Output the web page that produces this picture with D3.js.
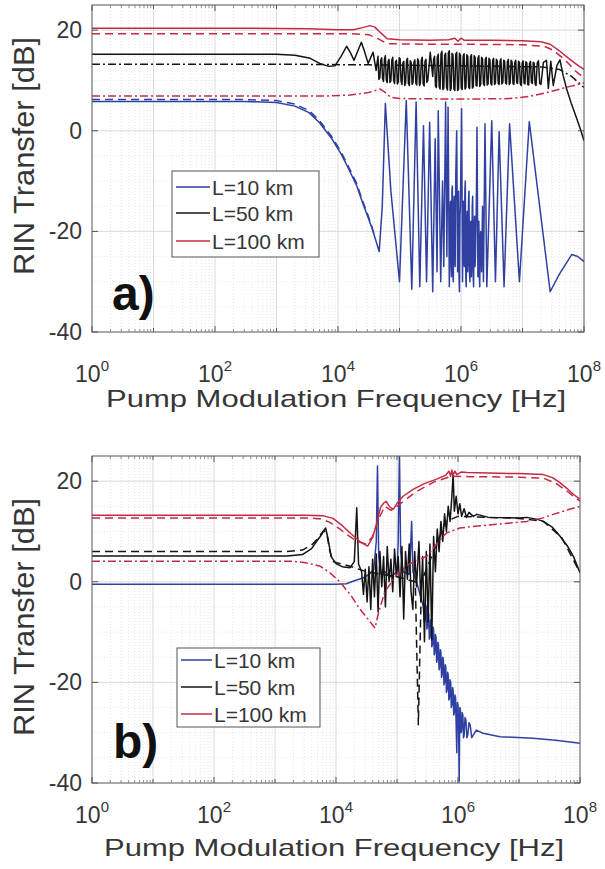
<!DOCTYPE html>
<html><head><meta charset="utf-8">
<script src="https://cdn.jsdelivr.net/npm/d3@7"></script>
<style>
body{margin:0;background:#fff}
svg{display:block}
text{font-family:"Liberation Sans",Arial,Helvetica,sans-serif;fill:#363636}
</style>
</head><body>
<svg id="c" width="605" height="869"></svg>
<script>
// ===== DATA (frequency as log10 exponent, value in dB) =====
const xTickExponents = [0, 2, 4, 6, 8];
const yTickValues = [-40, -20, 0, 20];
const legendLabels = ["L=10 km", "L=50 km", "L=100 km"];
const xLabel = "Pump Modulation Frequency [Hz]";
const yLabel = "RIN Transfer [dB]";

// ---- panel a) ----
const aRedSolid = [[0,20.4],[2,20.4],[3.5,20.3],[4.0,20.1],[4.25,20.1],[4.4,20.5],[4.52,20.9],[4.6,20.6],[4.7,19.4],[4.8,18.3],[5.0,18.1],[5.5,18.0],[5.8,18.1],[5.9,18.4],[5.95,17.8],[6.0,18.4],[6.05,18.0],[6.5,18.0],[7.0,17.9],[7.3,17.7],[7.45,17.2],[7.6,15.9],[7.75,14.4],[7.9,13.0],[8.0,12.2]];
const aRedDashed = [[0,19.3],[4.2,19.3],[4.5,19.1],[4.65,18.3],[4.8,17.3],[5.5,17.2],[6.0,17.2],[7.0,17.1],[7.35,16.8],[7.5,16.0],[7.7,14.0],[7.85,12.0],[8.0,10.5]];
const aRedDashDot = [[0,6.9],[3.8,6.9],[4.2,7.1],[4.5,7.6],[4.68,8.3],[4.75,7.8],[4.85,6.7],[5.0,6.4],[6.0,6.3],[6.8,6.4],[7.1,6.8],[7.4,7.6],[7.7,8.6],[8.0,9.5]];
const aBlackSolid = [[0,15.2],[3.0,15.2],[3.3,15.0],[3.55,14.4],[3.7,13.4],[3.85,12.8],[3.95,12.9],[4.05,14.8],[4.14,16.8],[4.2,15.6],[4.26,14.0],[4.32,15.8],[4.38,17.6],[4.43,15.8],[4.49,13.4],[4.57,15.6],[4.62,12.0],
 [4.65,14.8],[4.665,10.2],[4.68,10.5],[4.695,14.0],[4.71,14.5],[4.725,10.4],[4.74,9.8],[4.755,14.2],[4.77,14.9],[4.785,10.1],[4.80,9.6],[4.815,13.8],[4.83,14.2],[4.845,9.6],[4.86,9.9],[4.875,14.0],[4.89,14.6],[4.905,10.0],[4.92,9.4],[4.935,13.7],[4.95,14.0],[4.965,9.3],[4.98,9.7],[4.995,14.5],[5.01,14.3],[5.025,9.9],[5.04,9.2],[5.055,13.5],[5.07,13.8],[5.085,9.0],[5.10,9.5],[5.115,14.0],[5.13,14.4],[5.145,9.4],[5.16,9.0],[5.175,13.9],[5.19,13.6],[5.205,9.2],[5.22,9.6],[5.235,13.6],[5.25,14.1],[5.265,9.5],[5.28,9.1],[5.295,14.3],[5.31,13.9],[5.325,9.0],[5.34,9.4],[5.355,14.0],[5.37,14.6],[5.385,9.3],[5.40,8.9],[5.415,13.8],[5.43,14.2],[5.445,9.6],[5.46,10.0],[5.50,15.6],[5.54,10.8],[5.555,14.2],[5.57,14.8],[5.585,8.9],[5.60,8.6],[5.615,14.6],[5.63,15.2],[5.645,8.8],[5.66,8.3],[5.675,15.3],[5.69,15.8],[5.705,8.2],[5.72,8.5],[5.735,15.0],[5.75,15.4],[5.765,8.6],[5.78,8.1],[5.795,15.5],[5.81,15.9],[5.825,8.0],[5.84,8.4],[5.855,15.4],[5.87,15.1],[5.885,8.3],[5.90,8.0],[5.915,15.2],[5.93,15.6],[5.945,8.0],[5.96,8.3],[5.975,15.4],[5.99,15.0],[6.005,8.5],[6.02,8.2],[6.035,14.9],[6.05,15.3],[6.065,8.3],[6.08,8.6],[6.095,15.1],[6.11,14.8],[6.125,8.7],[6.14,8.4],[6.155,14.7],[6.17,15.1],[6.185,8.5],[6.20,8.8],[6.215,14.9],[6.23,14.6],[6.245,9.0],[6.26,8.9],[6.275,14.4],[6.29,14.9],[6.305,8.8],[6.32,9.2],[6.335,14.6],[6.35,14.3],[6.365,9.3],[6.38,9.0],[6.395,14.2],[6.41,14.6],[6.425,9.1],[6.44,9.3],[6.455,14.4],[6.47,14.1],[6.485,9.4],[6.50,9.1],[6.515,14.0],[6.53,14.4],[6.545,9.2],[6.56,9.5],[6.575,14.2],[6.59,13.9],[6.605,9.4],[6.62,9.2],[6.635,13.8],[6.65,14.3],[6.665,9.3],[6.68,9.6],[6.695,14.0],[6.71,13.8],[6.725,9.5],[6.74,9.3],[6.755,13.7],[6.77,14.2],[6.785,9.2],[6.80,9.5],[6.815,14.0],[6.83,13.7],[6.845,9.4],[6.86,9.2],[6.875,13.6],[6.89,14.0],[6.905,9.6],[6.92,9.4],[6.935,13.8],[6.95,13.6],[6.965,9.3],[6.98,9.0],[6.995,13.5],[7.01,13.9],[7.025,9.5],[7.04,9.3],[7.055,13.7],[7.07,13.5],[7.085,9.2],[7.10,9.1],[7.115,13.4],[7.13,13.8],[7.145,9.6],[7.16,9.4],[7.175,13.6],[7.19,13.4],[7.205,9.3],[7.22,9.0],[7.24,13.5],[7.26,13.9],[7.28,9.4],[7.30,9.2],[7.34,13.6],[7.39,14.0],[7.42,8.4],[7.46,13.8],[7.50,9.0],[7.56,13.0],[7.61,14.1],[7.66,11.0],[7.72,8.2],[7.80,5.2],[7.88,2.5],[7.95,0.0],[8.0,-2.0]];
const aBlackDashDot = [[0,13.2],[3.5,13.2],[4.5,13.1],[6.0,12.9],[7.3,12.7],[7.6,12.2],[7.8,10.8],[8.0,8.6]];
const aBlueDashed = [[0,6.2],[2.5,6.2],[3.0,6.0],[3.3,5.3],[3.53,4.0],[3.7,2.0],[3.9,-1.2],[4.05,-4.2],[4.15,-6.6],[4.3,-10.4],[4.4,-13.9],[4.5,-17.2],[4.6,-21.0]];
const aBlueSolid = [[0,5.8],[2.5,5.8],[3.0,5.6],[3.3,4.9],[3.53,3.6],[3.7,1.6],[3.9,-1.6],[4.05,-4.6],[4.15,-7.0],[4.3,-10.8],[4.4,-14.3],[4.5,-17.6],[4.56,-19.6],[4.62,-22.0],[4.67,-24.0],[4.72,-15.0],[4.77,5.4],[4.86,-12.0],[5.0,-30.0],[5.11,6.0],[5.2,-31.5],[5.27,5.7],[5.33,-31.0],[5.39,1.0],[5.44,-30.0],[5.49,1.7],[5.54,-32.0],[5.58,-1.6],[5.61,-28.0],[5.63,4.0],[5.67,-30.0],[5.70,-10.0],[5.72,-27.0],[5.75,5.7],[5.77,-25.0],[5.79,4.7],[5.81,-31.0],[5.82,-16.0],[5.83,-14.0],[5.838,-27.0],[5.845,-29.0],[5.853,-12.0],[5.86,-11.0],[5.868,-28.0],[5.875,-30.0],[5.883,-15.0],[5.89,-13.0],[5.898,-26.0],[5.905,-27.0],[5.915,-9.0],[5.93,0.0],[5.945,-28.0],[5.953,-14.0],[5.96,-12.0],[5.968,-29.0],[5.975,-32.0],[5.983,-17.0],[5.99,-15.0],[6.01,4.4],[6.025,-30.0],[6.033,-16.0],[6.04,-14.0],[6.048,-26.0],[6.055,-27.0],[6.063,-12.0],[6.07,-10.0],[6.078,-29.0],[6.085,-31.0],[6.093,-18.0],[6.10,-16.0],[6.108,-28.0],[6.115,-26.0],[6.123,-14.0],[6.13,-12.0],[6.138,-28.0],[6.145,-30.0],[6.153,-19.0],[6.16,-18.0],[6.168,-29.0],[6.175,-27.0],[6.183,-15.0],[6.19,-13.0],[6.198,-29.0],[6.205,-31.0],[6.213,-19.0],[6.22,-17.0],[6.228,-27.0],[6.235,-25.0],[6.25,-14.0],[6.26,0.7],[6.275,-29.0],[6.283,-19.0],[6.29,-18.0],[6.298,-29.0],[6.305,-31.0],[6.313,-21.0],[6.32,-20.0],[6.335,-28.0],[6.35,-15.0],[6.365,-30.0],[6.39,1.4],[6.42,-31.0],[6.50,2.0],[6.56,-30.0],[6.62,-0.2],[6.70,-31.0],[6.79,1.4],[6.95,-30.0],[7.11,1.8],[7.45,-32.0],[7.6,-28.5],[7.8,-24.6],[7.9,-25.0],[8.0,-26.0]];

// ---- panel b) ----
const bRedSolid = [[0,13.2],[3.5,13.2],[3.8,13.1],[3.95,12.6],[4.1,11.2],[4.25,9.5],[4.4,7.9],[4.52,7.1],[4.6,8.8],[4.67,11.7],[4.73,14.8],[4.78,15.6],[4.82,16.0],[4.88,14.9],[4.94,14.4],[5.0,15.6],[5.1,17.0],[5.27,18.4],[5.45,19.5],[5.65,20.4],[5.8,21.2],[5.85,22.0],[5.88,21.0],[5.9,22.2],[5.92,21.2],[5.95,22.0],[5.98,21.3],[6.05,21.8],[6.15,21.7],[6.5,21.6],[7.0,21.5],[7.4,21.3],[7.55,20.7],[7.67,19.7],[7.8,18.4],[7.9,17.3],[8.0,16.4]];
const bRedDashed = [[0,12.7],[3.5,12.7],[3.75,12.5],[3.9,11.8],[4.05,10.6],[4.2,9.2],[4.35,8.0],[4.5,7.5],[4.6,9.0],[4.7,12.5],[4.8,15.0],[4.9,14.2],[5.0,15.0],[5.3,17.8],[5.6,19.8],[5.9,21.0],[6.2,20.9],[7.0,20.8],[7.4,20.6],[7.6,19.6],[7.8,17.9],[8.0,16.0]];
const bRedDashDot = [[0,4.1],[3.25,4.1],[3.5,3.8],[3.74,3.1],[3.9,1.8],[4.07,-0.1],[4.25,-2.8],[4.39,-5.4],[4.55,-7.8],[4.64,-9.2],[4.7,-6.0],[4.8,-2.0],[5.0,1.5],[5.2,3.5],[5.49,5.1],[5.65,7.5],[5.81,9.7],[6.03,10.7],[6.5,11.3],[7.13,12.0],[7.4,12.7],[7.56,13.4],[7.8,14.3],[8.0,15.0]];
const bBlackSolid = [[0,5.1],[3.2,5.1],[3.45,5.4],[3.6,6.6],[3.68,8.0],[3.76,9.3],[3.83,10.7],[3.87,8.5],[3.92,5.0],[4.0,3.6],[4.1,3.0],[4.23,2.8],[4.3,4.0],[4.34,14.7],[4.37,3.5],[4.42,2.0],[4.45,-2.5],[4.48,2.5],[4.51,-4.0],[4.54,3.0],[4.57,-5.5],[4.6,4.5],[4.63,-3.0],[4.66,5.5],[4.69,-6.0],[4.72,6.0],[4.75,-1.0],[4.78,5.0],[4.81,-5.0],[4.84,7.0],[4.87,0.0],[4.90,4.5],[4.93,-2.0],[4.96,6.5],[4.99,1.0],[5.02,5.0],[5.05,-3.0],[5.08,7.0],[5.11,-7.4],[5.14,6.0],[5.17,0.5],[5.20,7.5],[5.23,-2.0],[5.26,-5.5],[5.29,6.0],[5.32,-1.0],[5.36,8.0],[5.39,-4.0],[5.42,5.0],[5.45,-11.9],[5.48,6.0],[5.51,-8.0],[5.54,7.5],[5.57,-11.5],[5.60,9.0],[5.63,2.0],[5.66,10.5],[5.69,6.0],[5.72,12.0],[5.75,8.0],[5.78,13.5],[5.81,10.0],[5.84,15.0],[5.87,12.0],[5.90,17.0],[5.92,21.4],[5.94,14.0],[5.97,17.0],[6.00,13.5],[6.03,15.5],[6.06,13.0],[6.10,14.5],[6.14,12.8],[6.18,13.8],[6.25,13.0],[6.31,13.4],[6.5,12.8],[7.0,12.7],[7.13,12.8],[7.3,12.4],[7.4,12.0],[7.55,10.8],[7.67,9.1],[7.8,7.0],[7.89,5.1],[8.0,1.8]];
const bBlackDashed = [[0,6.0],[3.2,6.0],[3.45,6.3],[3.6,7.3],[3.7,8.6],[3.8,10.2],[3.85,9.5],[3.9,6.0],[3.95,4.0],[4.2,3.2],[4.5,2.0],[5.0,1.0],[5.3,0.0],[5.35,-28.4],[5.4,0.0],[5.6,6.0],[5.8,12.0],[6.0,13.0],[7.0,12.6],[7.4,12.0],[7.7,8.8],[8.0,1.8]];
const bBlueSolid = [[0,-0.5],[4.0,-0.5],[4.17,-0.4],[4.3,0.2],[4.45,0.8],[4.55,1.5],[4.62,2.5],[4.66,8.0],[4.68,23.0],[4.70,5.0],[4.74,1.5],[4.8,2.0],[4.9,1.0],[5.0,2.0],[5.02,8.0],[5.04,26.0],[5.06,6.0],[5.1,2.0],[5.2,1.5],[5.22,6.0],[5.24,12.0],[5.26,2.0],[5.32,0.0],[5.43,-4.9],[5.45,-8.0],[5.46,-7.5],[5.47,-4.6],[5.48,-5.0],[5.49,-9.4],[5.50,-9.0],[5.51,-6.0],[5.52,-6.5],[5.53,-11.4],[5.54,-11.0],[5.55,-7.6],[5.56,-8.0],[5.57,-12.9],[5.58,-12.5],[5.59,-9.0],[5.60,-9.5],[5.61,-14.5],[5.62,-14.0],[5.63,-10.5],[5.64,-11.0],[5.65,-16.0],[5.66,-15.5],[5.67,-12.0],[5.68,-12.5],[5.69,-17.5],[5.70,-17.0],[5.71,-13.5],[5.72,-14.0],[5.73,-19.0],[5.74,-18.5],[5.75,-15.0],[5.76,-15.5],[5.77,-20.5],[5.78,-20.0],[5.79,-16.5],[5.80,-17.0],[5.81,-22.0],[5.82,-21.5],[5.83,-18.0],[5.84,-18.5],[5.85,-23.5],[5.86,-23.0],[5.87,-19.5],[5.88,-20.0],[5.89,-25.0],[5.90,-24.5],[5.91,-21.0],[5.92,-21.5],[5.93,-26.5],[5.94,-26.0],[5.95,-22.5],[5.96,-23.0],[5.98,-34.0],[5.99,-24.0],[6.00,-24.5],[6.01,-29.0],[6.02,-39.7],[6.03,-25.0],[6.04,-25.5],[6.05,-30.0],[6.06,-29.5],[6.07,-26.0],[6.08,-26.5],[6.09,-31.0],[6.10,-30.5],[6.115,-27.0],[6.13,-27.5],[6.145,-31.0],[6.16,-30.5],[6.18,-28.0],[6.20,-28.5],[6.225,-31.0],[6.25,-30.5],[6.30,-29.5],[6.41,-30.1],[6.69,-30.8],[7.23,-31.1],[7.6,-31.5],[8.0,-32.1]];

// ===== STYLES / LAYOUT =====
const BLUE = "#2f40a2", BLACK = "#141414", RED = "#c42a44";
const legendColors = [BLUE, BLACK, RED];
const DASH = "8,5", DASHDOT = "8,3,2,3";

const panels = [
  { x0: 92, x1: 584, yBottom: 332, yTop: 5, tickBase: 382, labelBase: 407, yLabelCY: 156,
    letter: "a)", letterX: 112, letterY: 310,
    legend: { x: 172, y: 171, w: 147, h: 86, rows: [187, 213, 241], lx0: 176, lx1: 210, tx: 212 },
    series: [
      { d: aBlueDashed, c: BLUE, dash: DASH },
      { d: aBlueSolid, c: BLUE },
      { d: aBlackDashDot, c: BLACK, dash: DASHDOT },
      { d: aBlackSolid, c: BLACK },
      { d: aRedDashDot, c: RED, dash: DASHDOT },
      { d: aRedDashed, c: RED, dash: DASH },
      { d: aRedSolid, c: RED }
    ] },
  { x0: 92, x1: 580, yBottom: 783, yTop: 456, tickBase: 823, labelBase: 856, yLabelCY: 617,
    letter: "b)", letterX: 113, letterY: 758,
    legend: { x: 177, y: 648, w: 143, h: 79, rows: [660, 687, 714], lx0: 181, lx1: 212, tx: 214 },
    series: [
      { d: bBlueSolid, c: BLUE },
      { d: bBlackDashed, c: BLACK, dash: DASH },
      { d: bBlackSolid, c: BLACK },
      { d: bRedDashDot, c: RED, dash: DASHDOT },
      { d: bRedDashed, c: RED, dash: DASH },
      { d: bRedSolid, c: RED }
    ] }
];

const svg = d3.select("#c");

panels.forEach((p, pi) => {
  const x = d3.scaleLog().domain([1, 1e8]).range([p.x0, p.x1]);
  const y = d3.scaleLinear().domain([-40, 25]).range([p.yBottom, p.yTop]);
  const g = svg.append("g");
  const clipId = "clip" + pi;
  svg.append("clipPath").attr("id", clipId).append("rect")
    .attr("x", p.x0).attr("y", p.yTop).attr("width", p.x1 - p.x0).attr("height", p.yBottom - p.yTop);

  // minor grid
  const minorX = [];
  for (let e = 0; e < 8; e++) for (let k = 2; k <= 9; k++) minorX.push(k * Math.pow(10, e));
  g.append("g").selectAll("line").data(minorX).join("line")
    .attr("x1", d => x(d)).attr("x2", d => x(d)).attr("y1", p.yTop).attr("y2", p.yBottom)
    .attr("stroke", "#e0e0e0").attr("stroke-width", 0.8).attr("stroke-dasharray", "1,2");
  const minorY = d3.range(-35, 25, 5).filter(v => v % 20 !== 0);
  g.append("g").selectAll("line").data(minorY).join("line")
    .attr("x1", p.x0).attr("x2", p.x1).attr("y1", d => y(d)).attr("y2", d => y(d))
    .attr("stroke", "#e4e4e4").attr("stroke-width", 0.8).attr("stroke-dasharray", "1,2");
  // major grid
  const majorX = d3.range(1, 8).map(e => Math.pow(10, e));
  g.append("g").selectAll("line").data(majorX).join("line")
    .attr("x1", d => x(d)).attr("x2", d => x(d)).attr("y1", p.yTop).attr("y2", p.yBottom)
    .attr("stroke", "#d6d6d6").attr("stroke-width", 0.9);
  g.append("g").selectAll("line").data([-20, 0, 20]).join("line")
    .attr("x1", p.x0).attr("x2", p.x1).attr("y1", d => y(d)).attr("y2", d => y(d))
    .attr("stroke", "#d6d6d6").attr("stroke-width", 0.9);

  // series
  const line = d3.line().x(d => x(Math.pow(10, d[0]))).y(d => y(d[1]));
  const sg = g.append("g").attr("clip-path", `url(#${clipId})`);
  p.series.forEach(s => {
    sg.append("path").attr("d", line(s.d)).attr("fill", "none")
      .attr("stroke", s.c).attr("stroke-width", 1.5)
      .attr("stroke-linejoin", "round")
      .attr("stroke-dasharray", s.dash || null);
  });

  // box
  g.append("rect").attr("x", p.x0).attr("y", p.yTop).attr("width", p.x1 - p.x0).attr("height", p.yBottom - p.yTop)
    .attr("fill", "none").attr("stroke", "#555").attr("stroke-width", 1);

  // ticks (inward) bottom & top
  const allDecades = d3.range(0, 9).map(e => Math.pow(10, e));
  [p.yBottom, p.yTop].forEach((yy, side) => {
    const dir = side === 0 ? -1 : 1;
    g.append("g").selectAll("line").data(allDecades).join("line")
      .attr("x1", d => x(d)).attr("x2", d => x(d)).attr("y1", yy).attr("y2", d => yy + dir * (xTickExponents.includes(Math.round(Math.log10(d))) ? 6 : 4))
      .attr("stroke", "#555");
    g.append("g").selectAll("line").data(minorX).join("line")
      .attr("x1", d => x(d)).attr("x2", d => x(d)).attr("y1", yy).attr("y2", yy + dir * 3)
      .attr("stroke", "#777").attr("stroke-width", 0.8);
  });
  [p.x0, p.x1].forEach((xx, side) => {
    const dir = side === 0 ? 1 : -1;
    g.append("g").selectAll("line").data(yTickValues).join("line")
      .attr("x1", xx).attr("x2", xx + dir * 6).attr("y1", d => y(d)).attr("y2", d => y(d))
      .attr("stroke", "#555");
  });

  // x tick labels
  const xl = g.append("g").selectAll("text").data(xTickExponents).join("text")
    .attr("x", d => x(Math.pow(10, d))).attr("y", p.tickBase)
    .attr("text-anchor", "middle").attr("font-size", 23);
  xl.append("tspan").text("10");
  xl.append("tspan").attr("font-size", 15).attr("dy", -11).text(d => d);

  // y tick labels
  g.append("g").selectAll("text").data(yTickValues).join("text")
    .attr("x", p.x0 - 10).attr("y", d => y(d) + 8)
    .attr("text-anchor", "end").attr("font-size", 23).text(d => d);

  // axis labels
  g.append("text").attr("x", (p.x0 + p.x1) / 2 - 2).attr("y", p.labelBase)
    .attr("text-anchor", "middle").attr("font-size", 24)
    .attr("textLength", 460).attr("lengthAdjust", "spacingAndGlyphs").text(xLabel);
  g.append("text").attr("transform", `translate(34,${p.yLabelCY}) rotate(-90)`)
    .attr("text-anchor", "middle").attr("font-size", 30)
    .attr("textLength", 238).attr("lengthAdjust", "spacingAndGlyphs").text(yLabel);

  // legend
  const L = p.legend;
  g.append("rect").attr("x", L.x).attr("y", L.y).attr("width", L.w).attr("height", L.h)
    .attr("fill", "#fff").attr("stroke", "#555").attr("stroke-width", 1);
  legendLabels.forEach((lab, i) => {
    g.append("line").attr("x1", L.lx0).attr("x2", L.lx1).attr("y1", L.rows[i]).attr("y2", L.rows[i])
      .attr("stroke", legendColors[i]).attr("stroke-width", 1.5);
    g.append("text").attr("x", L.tx).attr("y", L.rows[i] + 7.5).attr("font-size", 21).text(lab);
  });

  // panel letter
  g.append("text").attr("x", p.letterX).attr("y", p.letterY).attr("font-size", 48)
    .attr("font-weight", "bold").style("fill", "#111").text(p.letter);
});
</script>
</body></html>
